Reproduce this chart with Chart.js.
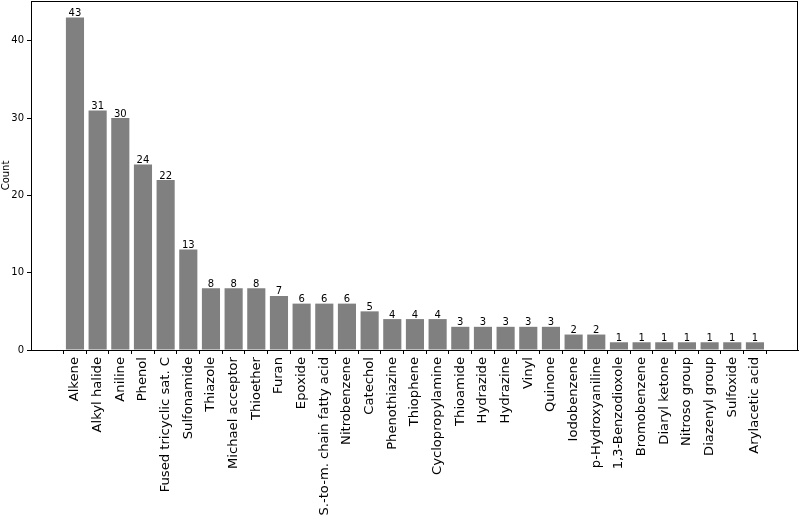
<!DOCTYPE html>
<html>
<head>
<meta charset="utf-8">
<script src="https://cdn.jsdelivr.net/npm/chart.js@4"></script>
<style>
    html, body { margin: 0; padding: 0; background: #fff; }
    #wrap { width: 800px; height: 516px; }
</style>
</head>
<body>
<div id="wrap"><canvas id="countChart" width="800" height="516"></canvas></div>
<script>
// grupos funcionales y sus conteos
const categories = [
    'Alkene', 'Alkyl halide', 'Aniline', 'Phenol', 'Fused tricyclic sat. C',
    'Sulfonamide', 'Thiazole', 'Michael acceptor', 'Thioether', 'Furan',
    'Epoxide', 'S.-to-m. chain fatty acid', 'Nitrobenzene', 'Catechol',
    'Phenothiazine', 'Thiophene', 'Cyclopropylamine', 'Thioamide', 'Hydrazide',
    'Hydrazine', 'Vinyl', 'Quinone', 'Iodobenzene', 'p-Hydroxyaniline',
    '1,3-Benzodioxole', 'Bromobenzene', 'Diaryl ketone', 'Nitroso group',
    'Diazenyl group', 'Sulfoxide', 'Arylacetic acid'
];
const counts = [43, 31, 30, 24, 22, 13, 8, 8, 8, 7, 6, 6, 6, 5, 4, 4, 4, 3, 3, 3, 3, 3, 2, 2, 1, 1, 1, 1, 1, 1, 1];
const yTicks = [0, 10, 20, 30, 40];

const FONT = 'DejaVu Sans';

// marco completo alrededor del area de la grafica
const frameBox = {
    id: 'frameBox',
    afterDraw(chart) {
        const { ctx, chartArea: a } = chart;
        ctx.save();
        ctx.strokeStyle = '#000';
        ctx.lineWidth = 1;
        ctx.strokeRect(a.left + 0.5, a.top + 0.5, a.right - a.left - 1, a.bottom - a.top);
        ctx.restore();
    }
};

// etiquetas de valor encima de cada barra
const barValues = {
    id: 'barValues',
    afterDatasetsDraw(chart) {
        const { ctx } = chart;
        const meta = chart.getDatasetMeta(0);
        ctx.save();
        ctx.font = `10px "${FONT}"`;
        ctx.fillStyle = '#000';
        ctx.textAlign = 'center';
        ctx.textBaseline = 'bottom';
        meta.data.forEach((bar, i) => {
            ctx.fillText(String(counts[i]), bar.x, bar.y + 1);
        });
        ctx.restore();
    }
};

const ctx = document.getElementById('countChart');

new Chart(ctx, {
    type: 'bar',
    data: {
        datasets: [{
            data: counts.map((v, i) => ({ x: i, y: v })),
            backgroundColor: '#808080',
            borderWidth: 0,
            barPercentage: 0.8,
            categoryPercentage: 1.0
        }]
    },
    options: {
        responsive: false,
        animation: false,
        events: [],
        layout: { padding: { top: 1, right: 2, left: 0, bottom: 0 } },
        plugins: {
            legend: { display: false },
            tooltip: { enabled: false }
        },
        scales: {
            x: {
                type: 'linear',
                min: -1.94,
                max: 31.9,
                offset: false,
                afterBuildTicks: axis => {
                    axis.ticks = categories.map((_, i) => ({ value: i }));
                },
                afterFit: scale => {
                    scale.height = 166;
                    scale.paddingLeft = 0;
                    scale.paddingRight = 0;
                },
                ticks: {
                    autoSkip: false,
                    maxRotation: 90,
                    minRotation: 90,
                    padding: 3,
                    color: '#000',
                    font: { family: FONT, size: 13.15 },
                    callback: value => categories[value] ?? ''
                },
                grid: {
                    drawOnChartArea: false,
                    drawTicks: true,
                    tickLength: 4,
                    tickColor: '#000'
                },
                border: { display: true, color: '#000', width: 1 }
            },
            y: {
                min: 0,
                max: 45.15,
                afterBuildTicks: axis => {
                    axis.ticks = yTicks.map(v => ({ value: v }));
                },
                afterFit: scale => {
                    scale.width = 31;
                    scale.paddingTop = 0;
                    scale.paddingBottom = 0;
                },
                ticks: {
                    padding: 3,
                    color: '#000',
                    font: { family: FONT, size: 10 }
                },
                grid: {
                    drawOnChartArea: false,
                    drawTicks: true,
                    tickLength: 4,
                    tickColor: '#000'
                },
                border: { display: true, color: '#000', width: 1 },
                title: {
                    display: true,
                    text: 'Count',
                    color: '#000',
                    font: { family: FONT, size: 10 },
                    padding: { top: 0, bottom: 2 }
                }
            }
        }
    },
    plugins: [frameBox, barValues]
});
</script>
</body>
</html>
